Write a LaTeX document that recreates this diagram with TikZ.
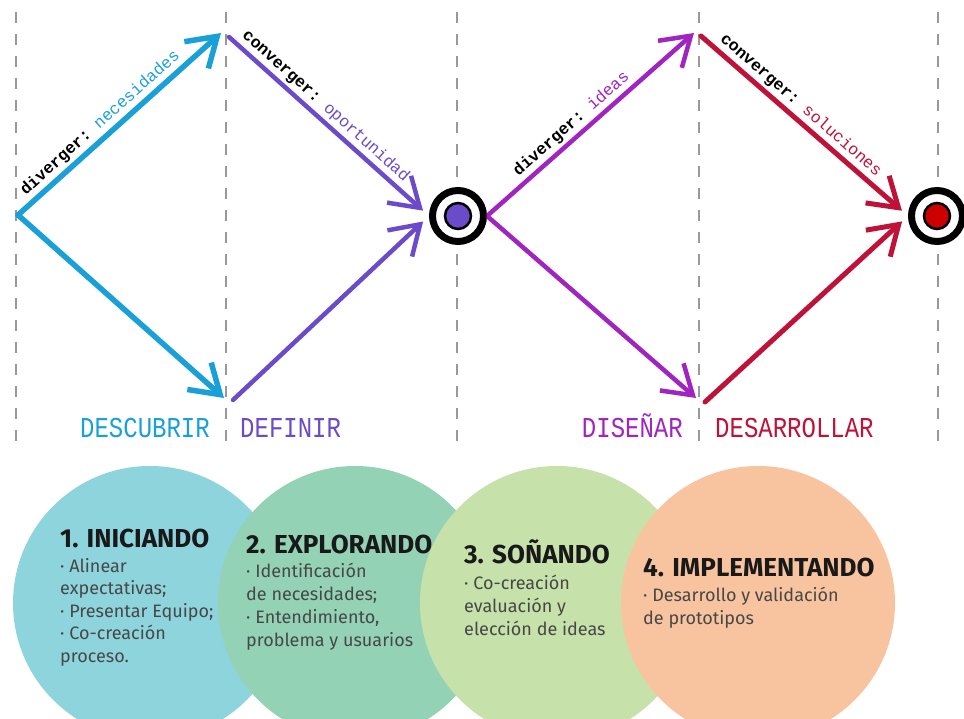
\documentclass[tikz,border=0pt]{standalone}
\usepackage{fontspec}
\setmainfont{Fira Sans}
\setmonofont{Liberation Mono}
\usetikzlibrary{arrows.meta}
\definecolor{cdesc}{HTML}{1AA0D8}
\definecolor{cdef}{HTML}{6B4BC9}
\definecolor{cdis}{HTML}{A024C0}
\definecolor{cdes}{HTML}{BE1238}
\definecolor{cini}{HTML}{8ED4DD}
\definecolor{cexp}{HTML}{93D2B5}
\definecolor{csue}{HTML}{C7E1AB}
\definecolor{cimp}{HTML}{F8C49F}
\tikzstyle{guide}=[draw=black!40, line width=1.2pt, dash pattern=on 11pt off 11pt]
\tikzstyle{arr}=[line width=5pt, line cap=round, -{Straight Barb[length=28pt,width=36pt]}]
\tikzstyle{ring}=[draw=black, circle, line width=7pt, fill=white, minimum size=51pt, inner sep=0pt]
\tikzstyle{dot}=[draw=black, circle, line width=2.5pt, minimum size=26pt, inner sep=0pt]
\tikzstyle{lab}=[inner sep=1pt, yshift=2pt, font=\ttfamily\fontsize{16.5}{16.5}\selectfont]
\tikzstyle{stage}=[inner sep=0pt, font=\ttfamily\fontsize{24}{24}\selectfont]
\tikzstyle{phase}=[circle, draw=none, minimum size=274pt]
\tikzstyle{head}=[anchor=base west, inner sep=0pt, font=\bfseries\fontsize{26}{26}\selectfont, text=black!90]
\tikzstyle{body}=[anchor=base west, inner sep=0pt, font=\fontsize{18}{18}\selectfont, text=black!72]

\begin{document}
\begin{tikzpicture}[x=1pt, y=-1pt]
\useasboundingbox (0,0) rectangle (964,719);
\foreach \x in {16, 226, 457, 699, 938}
  \draw[guide] (\x,12) -- (\x,442);
% double diamond
\coordinate (a1) at (18,215);
\coordinate (a2) at (221,33);
\coordinate (a3) at (224,398);
\coordinate (b1) at (229,37);
\coordinate (b2) at (233,400);
\coordinate (d2) at (694,33);
\coordinate (d3) at (696,398);
\coordinate (e1) at (701,36);
\coordinate (e2) at (705,402);
\node[ring] (r1) at (458,216) {};
\node[dot, fill=cdef] (p1) at (r1) {};
\node[ring] (r2) at (937,216) {};
\node[dot, fill=red!80!black] (p2) at (r2) {};
\draw[arr, cdesc, line width=5.5pt] (a1) -- node[lab, sloped, above, pos=.45, text=black]
  {\bfseries diverger: \mdseries\textcolor{cdesc}{necesidades}} (a2);
\draw[arr, cdesc, line width=5.5pt] (a1) -- (a3);
\draw[arr, cdef, line width=4.5pt, shorten >=8pt] (b1) -- node[lab, sloped, above, pos=.44, text=black]
  {\bfseries converger: \mdseries\textcolor{cdef}{oportunidad}} (r1.west);
\draw[arr, cdef, line width=4.5pt, shorten >=8pt] (b2) -- (r1.west);
\draw[arr, cdis, line width=4.5pt, shorten <=2pt] (r1.east) -- node[lab, sloped, above, pos=.45, text=black]
  {\bfseries diverger: \mdseries\textcolor{cdis}{ideas}} (d2);
\draw[arr, cdis, line width=4.5pt, shorten <=2pt] (r1.east) -- (d3);
\draw[arr, cdes, shorten >=8pt] (e1) -- node[lab, sloped, above, pos=.44, text=black]
  {\bfseries converger: \mdseries\textcolor{cdes}{soluciones}} (r2.west);
\draw[arr, cdes, shorten >=8pt] (e2) -- (r2.west);
% stages
\node[stage, anchor=base east, text=cdesc] (s1) at (210,437) {\scalebox{1}[1.2]{DESCUBRIR}};
\node[stage, anchor=base west, text=cdef] (s2) at (240,437) {\scalebox{1}[1.2]{DEFINIR}};
\node[stage, anchor=base east, text=cdis] (s3) at (683,437) {\scalebox{1}[1.2]{DISEÑAR}};
\node[stage, anchor=base west, text=cdes] (s4) at (715,437) {\scalebox{1}[1.2]{DESARROLLAR}};
% phases
\node[phase, fill=cini] (f1) at (150,603) {};
\node[phase, fill=cexp] (f2) at (355,603) {};
\node[phase, fill=csue] (f3) at (557,603) {};
\node[phase, fill=cimp] (f4) at (758,603) {};
\node[head] (h1) at (60,547) {1. INICIANDO};
\foreach \t [count=\i] in {{· Alinear}, {expectativas;}, {· Presentar Equipo;}, {· Co-creación}, {proceso.}}
  \node[body] (t1\i) at (60, 549.5+22.5*\i) {\t};
\node[head] (h2) at (246,553) {2. EXPLORANDO};
\foreach \t [count=\i] in {{· Identificación}, {de necesidades;}, {· Entendimiento,}, {problema y usuarios}}
  \node[body] (t2\i) at (246, 554+23*\i) {\t};
\node[head] (h3) at (464,563) {3. SOÑANDO};
\foreach \t [count=\i] in {{· Co-creación}, {evaluación y}, {elección de ideas}}
  \node[body] (t3\i) at (464, 566+23*\i) {\t};
\node[head] (h4) at (643,576) {4. IMPLEMENTANDO};
\foreach \t [count=\i] in {{· Desarrollo y validación}, {de prototipos}}
  \node[body] (t4\i) at (643, 578+23*\i) {\t};
\end{tikzpicture}
\end{document}
